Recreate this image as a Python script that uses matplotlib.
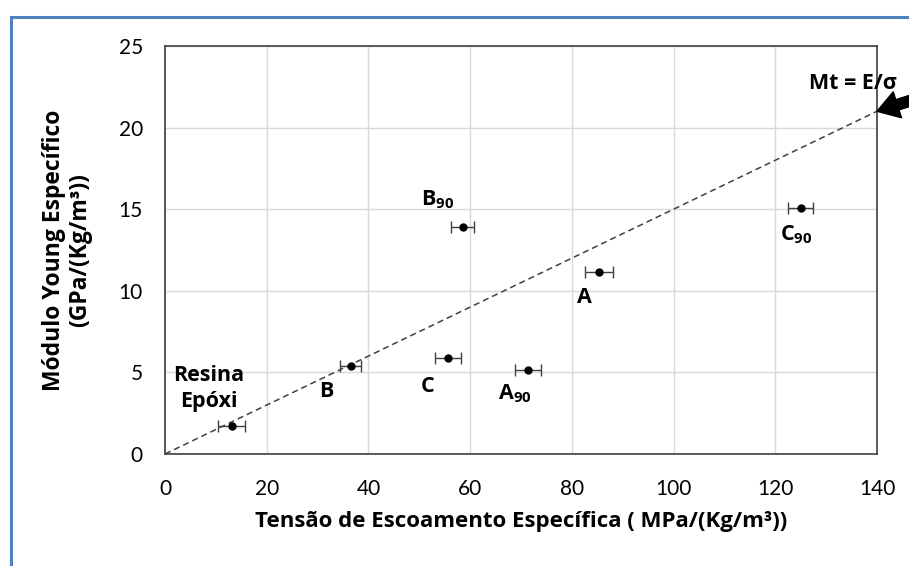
import matplotlib
matplotlib.use("Agg")
import matplotlib.pyplot as plt
from matplotlib.patches import Rectangle

plt.rcParams['font.family'] = ['Lato', 'DejaVu Sans']
plt.rcParams['mathtext.fontset'] = 'custom'
plt.rcParams['mathtext.rm'] = 'Open Sans'
plt.rcParams['mathtext.default'] = 'regular'

BOLD = ['Open Sans', 'DejaVu Sans']

# data
names = ["Resina\nEpóxi", "B", "C", "B$_{90}$", "A", "C$_{90}$", "A$_{90}$"]
x_vals = [13.1, 36.5, 55.6, 58.5, 85.3, 125.0, 71.4]
y_vals = [1.72, 5.39, 5.86, 13.93, 11.13, 15.05, 5.15]
x_err = [2.7, 2.1, 2.6, 2.3, 2.8, 2.5, 2.6]
label_x = [8.65, 31.8, 51.7, 53.7, 82.4, 124.1, 68.8]
label_y = [4.0, 3.82, 4.12, 15.56, 9.56, 13.42, 3.72]
line_x = [0, 140]
line_y = [0, 21]
x_ticks = [0, 20, 40, 60, 80, 100, 120, 140]
y_ticks = [0, 5, 10, 15, 20, 25]

fig = plt.figure(figsize=(9.09, 5.66), dpi=100)
ax = fig.add_axes([165/909, 1-454/566, (877-165)/909, (454-46)/566])

ax.plot(line_x, line_y, linestyle=(0, (4, 2.6)), color='#404040', lw=1.1, zorder=2)
ax.errorbar(x_vals, y_vals, xerr=x_err, fmt='o', color='black', ms=5,
            ecolor='#404040', elinewidth=1, capsize=4.5, capthick=1, zorder=3)

for n, lx, ly in zip(names, label_x, label_y):
    ax.text(lx, ly, n, ha='center', va='center', fontsize=15.5, fontweight='bold',
            family=BOLD, linespacing=1.3)

ax.text(135.3, 22.7, "Mt = E/σ", ha='center', va='center', fontsize=15.5,
        fontweight='bold', family=BOLD, clip_on=False)
ax.annotate('', xy=(140, 21), xycoords='data', xytext=(925, 566-96),
            textcoords='figure pixels', annotation_clip=False,
            arrowprops=dict(arrowstyle='simple,head_width=1.4,head_length=1.1,tail_width=0.55',
                            color='black', mutation_scale=14, shrinkA=0, shrinkB=0))

ax.set_xlim(0, 140)
ax.set_ylim(0, 25)
ax.set_xticks(x_ticks)
ax.set_yticks(y_ticks)
ax.tick_params(length=0, labelsize=15)
ax.tick_params(axis='x', pad=18)
ax.tick_params(axis='y', pad=16)
ax.grid(True, color='#d9d9d9', lw=1)
ax.set_axisbelow(True)
for s in ax.spines.values():
    s.set_color('#404040')
    s.set_linewidth(1.2)

ax.set_xlabel("Tensão de Escoamento Específica ( MPa/(Kg/m³))", fontsize=16,
              fontweight='bold', family=BOLD, labelpad=9)
ax.set_ylabel("Módulo Young Específico\n(GPa/(Kg/m³))", fontsize=16.5,
              fontweight='bold', family=BOLD, labelpad=19, linespacing=1.1)

fig.add_artist(Rectangle((11/909, -0.1), 1.2, (566-17)/566 + 0.1,
                         transform=fig.transFigure, fill=False,
                         edgecolor='#4f81bd', lw=2.2))

fig.savefig("out.png", dpi=100)
